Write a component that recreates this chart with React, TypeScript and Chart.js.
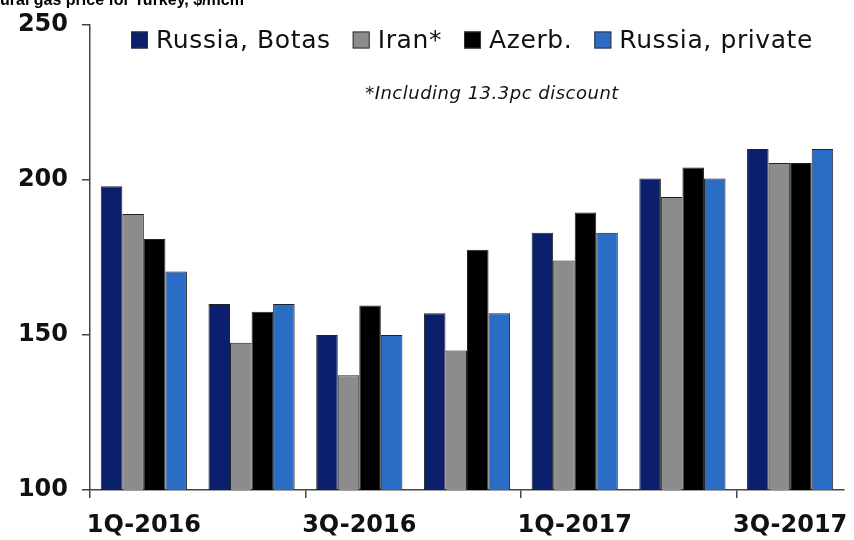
import React, { useEffect, useRef } from "react";
import { Chart, registerables } from "chart.js";

Chart.register(...registerables);

const categories = ["1Q-2016", "2Q-2016", "3Q-2016", "4Q-2016", "1Q-2017", "2Q-2017", "3Q-2017"];
const russiaBotas = [198, 160, 150, 157, 183, 200.5, 210];
const iran = [189, 147.5, 137, 145, 174, 194.5, 205.5];
const azerb = [181, 157.5, 159.5, 177.5, 189.5, 204, 205.5];
const russiaPrivate = [170.5, 160, 150, 157, 183, 200.5, 210];
const seriesLabels = ["Russia, Botas", "Iran*", "Azerb.", "Russia, private"];
const seriesColors = ["#0b1f6c", "#8c8c8c", "#000000", "#2b6cc4"];
const yMin = 100;
const yMax = 250;
const yStep = 50;
const titleText = "Natural gas price for Turkey, $/mcm";
const footnoteText = "*Including 13.3pc discount";

const overlayPlugin = {
  id: "overlay",
  afterDraw(chart: any) {
    const ctx = chart.ctx as any;
    ctx.save();
    // cropped title
    ctx.font = 'bold 16px "Liberation Sans", Arial, sans-serif';
    ctx.fillStyle = "#000";
    ctx.textAlign = "left";
    ctx.textBaseline = "alphabetic";
    const pre = ctx.measureText("Nat").width;
    ctx.fillText(titleText, -pre, 5);

    // legend
    ctx.font = '25px "DejaVu Sans", sans-serif';
    ctx.letterSpacing = "0.6px";
    const ds = chart.data.datasets;
    const box = 17;
    const gapBT = 8;
    const gapItem = 22;
    const widths = ds.map((d: any) => ctx.measureText(d.label).width);
    const total =
      widths.reduce((a: number, w: number) => a + box + gapBT + w, 0) + gapItem * (ds.length - 1);
    let x = 472 - total / 2;
    const cy = 40;
    ds.forEach((d: any, i: number) => {
      ctx.fillStyle = d.backgroundColor;
      ctx.fillRect(x, cy - 8.5, box, box);
      ctx.strokeStyle = "#333";
      ctx.lineWidth = 1;
      ctx.strokeRect(x + 0.5, cy - 8, box - 1, box - 1);
      x += box + gapBT;
      ctx.fillStyle = "#111";
      ctx.textBaseline = "middle";
      ctx.fillText(d.label, x, cy + 1);
      x += widths[i] + gapItem;
    });

    // footnote
    ctx.font = 'italic 18px "DejaVu Sans", sans-serif';
    ctx.letterSpacing = "0.5px";
    ctx.textAlign = "center";
    ctx.textBaseline = "alphabetic";
    ctx.fillStyle = "#111";
    ctx.fillText(footnoteText, 492, 99);
    ctx.restore();
  },
};

export default function App() {
  const ref = useRef<HTMLCanvasElement | null>(null);

  useEffect(() => {
    document.body.style.margin = "0";
    const canvas = ref.current;
    if (!canvas) return;
    const values = [russiaBotas, iran, azerb, russiaPrivate];
    const chart = new Chart(canvas, {
      type: "bar",
      data: {
        labels: categories,
        datasets: values.map((v, i) => ({
          label: seriesLabels[i],
          data: v,
          backgroundColor: seriesColors[i],
          borderColor: "#222",
          borderWidth: 1,
          categoryPercentage: 0.8,
          barPercentage: 1.0,
        })),
      },
      options: {
        animation: false,
        responsive: false,
        layout: { padding: { top: 25, right: 10, left: 0, bottom: 0 } },
        plugins: {
          legend: { display: false },
          tooltip: { enabled: false },
          title: { display: false },
        },
        scales: {
          x: {
            offset: true,
            grid: {
              offset: true,
              drawOnChartArea: false,
              drawTicks: true,
              tickLength: 8,
              lineWidth: 1.5,
              color: (c: any) => (typeof c.index === "number" && c.index % 2 === 0 ? "#444" : "rgba(0,0,0,0)"),
            },
            border: { display: true, color: "#444", width: 1.5 },
            ticks: {
              autoSkip: false,
              maxRotation: 0,
              minRotation: 0,
              padding: 13,
              color: "#111",
              font: { family: '"DejaVu Sans", sans-serif', size: 24, weight: "bold" },
              callback: (_v: any, i: number) => (i % 2 === 0 ? categories[i] : ""),
            },
            afterFit: (s: any) => {
              s.height = 50;
              s.paddingLeft = 0;
              s.paddingRight = 0;
            },
          },
          y: {
            min: yMin,
            max: yMax,
            grid: {
              drawOnChartArea: false,
              drawTicks: true,
              tickLength: 8,
              lineWidth: 1.5,
              color: "#444",
            },
            border: { display: true, color: "#444", width: 1.5 },
            ticks: {
              stepSize: yStep,
              padding: 14,
              color: "#111",
              font: { family: '"DejaVu Sans", sans-serif', size: 24, weight: "bold" },
            },
            afterFit: (s: any) => {
              s.width = 90;
              s.paddingTop = 0;
              s.paddingBottom = 0;
            },
          },
        },
      },
      plugins: [overlayPlugin],
    });
    return () => chart.destroy();
  }, []);

  return (
    <div style={{ width: 854, height: 540, position: "relative", overflow: "hidden", background: "#fff" }}>
      <canvas ref={ref} width={854} height={540} style={{ display: "block" }} />
    </div>
  );
}
